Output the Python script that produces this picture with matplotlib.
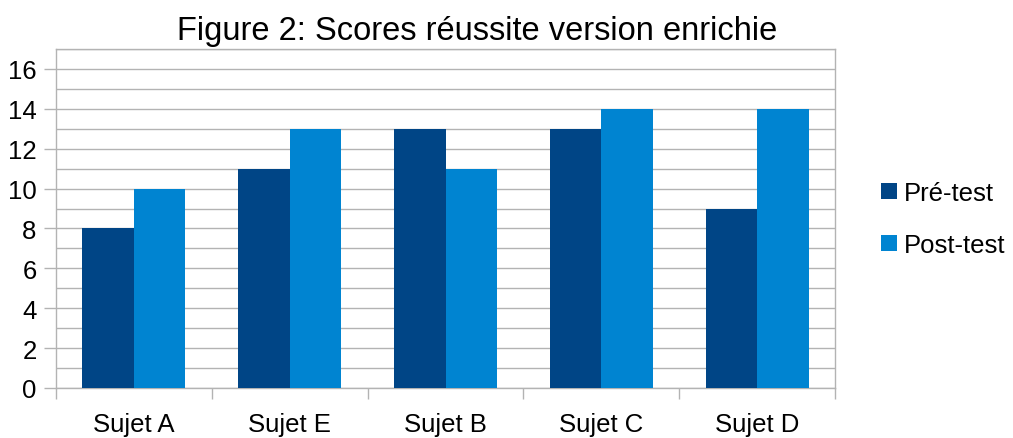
import matplotlib
matplotlib.use("Agg")
import matplotlib.pyplot as plt
import numpy as np
from matplotlib.ticker import MultipleLocator, FixedLocator

categories = ["Sujet A", "Sujet E", "Sujet B", "Sujet C", "Sujet D"]
pre_test = [8, 11, 13, 13, 9]
post_test = [10, 13, 11, 14, 14]
series_names = ["Pré-test", "Post-test"]
title = "Figure 2: Scores réussite version enrichie"

plt.rcParams['font.family'] = ['Liberation Sans', 'DejaVu Sans']

W, H = 1013, 439
fig = plt.figure(figsize=(W / 100, H / 100), dpi=100)
L, R, T, B = 56, 835, 50, 389
ax = fig.add_axes([L / W, (H - B) / H, (R - L) / W, (B - T) / H])

x = np.arange(len(categories))
bw = 0.33
c_pre, c_post = "#004586", "#0084d1"
ax.bar(x - bw / 2, pre_test, bw, color=c_pre, label=series_names[0], zorder=3)
ax.bar(x + bw / 2, post_test, bw, color=c_post, label=series_names[1], zorder=3)

ax.set_xlim(-0.5, len(categories) - 0.5)
ax.set_ylim(0, 17)
ax.yaxis.set_major_locator(MultipleLocator(2))
ax.yaxis.set_minor_locator(MultipleLocator(1))
ax.grid(axis='y', which='both', color='#b3b3b3', linewidth=1.0, zorder=0)

ax.set_xticks(x)
ax.set_xticklabels(categories)
ax.xaxis.set_minor_locator(FixedLocator(np.arange(len(categories) + 1) - 0.5))
ax.tick_params(axis='x', which='major', length=0, pad=17, labelsize=18.5)
ax.tick_params(axis='x', which='minor', length=8, width=1, color='#b3b3b3')
ax.tick_params(axis='y', which='major', length=8.5, width=1, color='#b3b3b3', labelsize=18.5, pad=5.5)
ax.tick_params(axis='y', which='minor', length=0)

for s in ax.spines.values():
    s.set_color('#b3b3b3')
    s.set_linewidth(1.0)

fig.text(477 / W, 1 - 40 / H, title, fontsize=23.5, ha='center', va='baseline')

leg = fig.legend(loc='center left', bbox_to_anchor=(858 / W, 1 - 220 / H),
                 frameon=False, fontsize=18.5, handlelength=0.6, handleheight=0.6,
                 labelspacing=1.1, handletextpad=0.3)

fig.savefig("out.png", dpi=100)
